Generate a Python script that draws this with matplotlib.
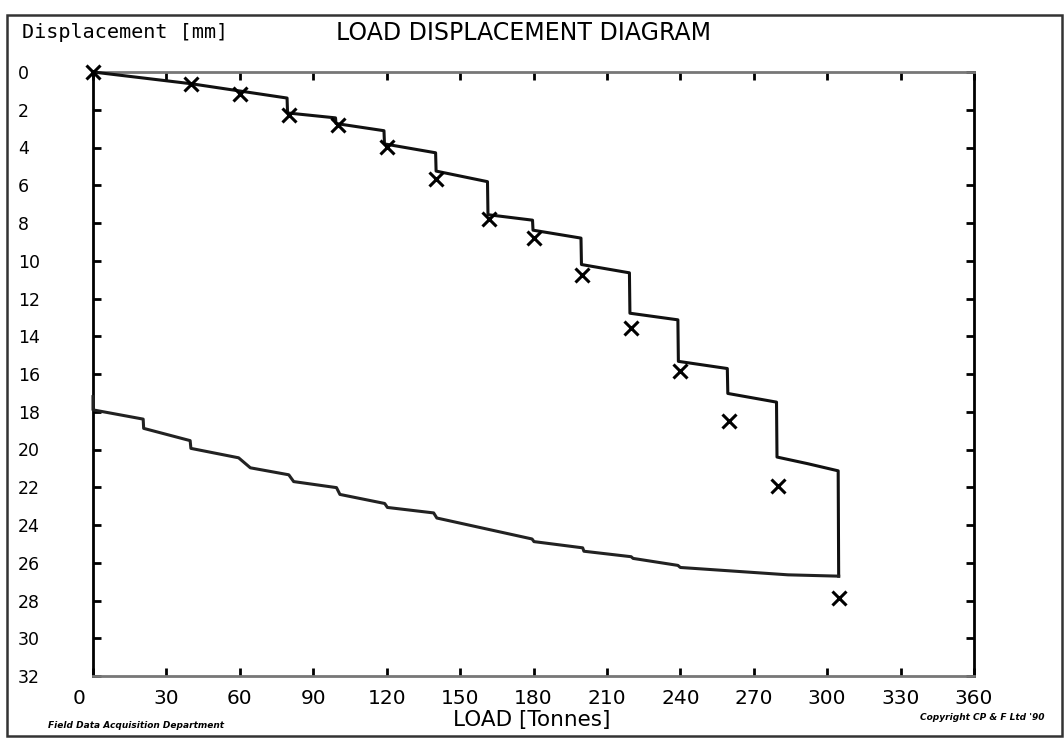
import numpy as np
import matplotlib
matplotlib.use('Agg')
import matplotlib.pyplot as plt
import matplotlib.transforms as mtransforms
from matplotlib.patches import Rectangle

# Data #######################################################
# loading curve (load in tonnes, displacement in mm)
load_up = [0, 40, 79.3, 79.5, 99.1, 99.3, 118.9, 119.1, 140, 140.2,
           161.2, 161.4, 179.6, 179.8, 199.4, 199.6, 219.2, 219.4,
           239, 239.2, 259.2, 259.4, 279.3, 279.5, 292, 304.5, 304.7]
disp_up = [0, 0.62, 1.38, 2.17, 2.43, 2.73, 3.11, 3.81, 4.28, 5.25,
           5.81, 7.56, 7.85, 8.38, 8.80, 10.20, 10.64, 12.78,
           13.13, 15.33, 15.71, 17.03, 17.49, 20.40, 20.75, 21.13, 26.71]

# unloading curve
load_down = [304.7, 284, 240, 239, 220.7, 219.9, 200.6, 200.1, 180.2, 179.4,
             140.5, 139.2, 120.3, 119.2, 100.9, 99.5, 82, 80, 64.3, 59.5,
             40, 39.7, 20.7, 20.5, 0, 0]
disp_down = [26.71, 26.64, 26.25, 26.14, 25.77, 25.68, 25.39, 25.21, 24.88, 24.74,
             23.63, 23.36, 23.07, 22.86, 22.38, 22.02, 21.70, 21.34, 20.97, 20.44,
             19.94, 19.53, 18.88, 18.39, 17.90, 17.20]

# measured points (crosses)
load_pts = [0, 40, 60, 80, 100, 120, 140, 162, 180, 200, 220, 240, 260, 280, 305]
disp_pts = [0, 0.62, 1.14, 2.26, 2.82, 3.98, 5.65, 7.77, 8.77, 10.78,
            13.54, 15.85, 18.48, 21.94, 27.87]

x_ticks = np.arange(0, 361, 30)
y_ticks = np.arange(0, 33, 2)
###############################################################

fig = plt.figure(figsize=(10.64, 7.38), dpi=100)
fig.patch.set_facecolor('white')
ax = fig.add_axes([93/1064, 1-676/738, (974-93)/1064, (676-72)/738])

ax.plot(load_up, disp_up, color='#111111', lw=2.2, clip_on=False, zorder=3)
ax.plot(load_down, disp_down, color='#222222', lw=2.2, clip_on=False, zorder=3)
ax.plot(load_pts, disp_pts, 'x', color='black', ms=10, mew=2.2, clip_on=False, zorder=4)

ax.set_xlim(0, 360)
ax.set_ylim(32, 0)

ax.set_xticks(x_ticks)
ax.set_xticklabels([str(v) for v in x_ticks])
ax.set_yticks(y_ticks)
ax.set_yticklabels([str(v) for v in y_ticks])

ax.tick_params(axis='x', direction='in', length=6, width=2, top=True, bottom=True,
               labelsize=14.5, pad=9, colors='black')
ax.tick_params(axis='y', direction='in', length=6, width=2, left=True, right=True,
               labelsize=12.5, pad=54, colors='black')
for lbl in ax.get_yticklabels():
    lbl.set_horizontalalignment('left')
# the "0" on the x axis sits a little left of the origin
lbl0 = ax.get_xticklabels()[0]
lbl0.set_transform(lbl0.get_transform() + mtransforms.ScaledTranslation(-0.14, 0, fig.dpi_scale_trans))

for side in ['left', 'right']:
    ax.spines[side].set_color('black')
    ax.spines[side].set_linewidth(2)
for side in ['top', 'bottom']:
    ax.spines[side].set_color('#777777')
    ax.spines[side].set_linewidth(2)

# texts
fig.text(523/1064, 1-33/738, 'LOAD DISPLACEMENT DIAGRAM', ha='center', va='center',
         fontsize=17, family='DejaVu Sans')
fig.text(22/1064, 1-33/738, 'Displacement [mm]', ha='left', va='center',
         fontsize=14.5, family='DejaVu Sans Mono')
fig.text(532/1064, 1-720/738, 'LOAD [Tonnes]', ha='center', va='center',
         fontsize=15.5, family='DejaVu Sans')
fig.text(48/1064, 1-725/738, 'Field Data Acquisition Department', ha='left', va='center',
         fontsize=6.5, fontweight='bold', fontstyle='italic', family='DejaVu Sans')
fig.text(1045/1064, 1-717/738, "Copyright CP & F Ltd '90", ha='right', va='center',
         fontsize=6.5, fontweight='bold', fontstyle='italic', family='DejaVu Sans')

# outer frame
fig.patches.append(Rectangle((7/1064, 1-736/738), (1062-7)/1064, (736-15)/738,
                             transform=fig.transFigure, fill=False,
                             edgecolor='#333333', lw=1.8))

fig.savefig('out.png', dpi=100, facecolor='white')
